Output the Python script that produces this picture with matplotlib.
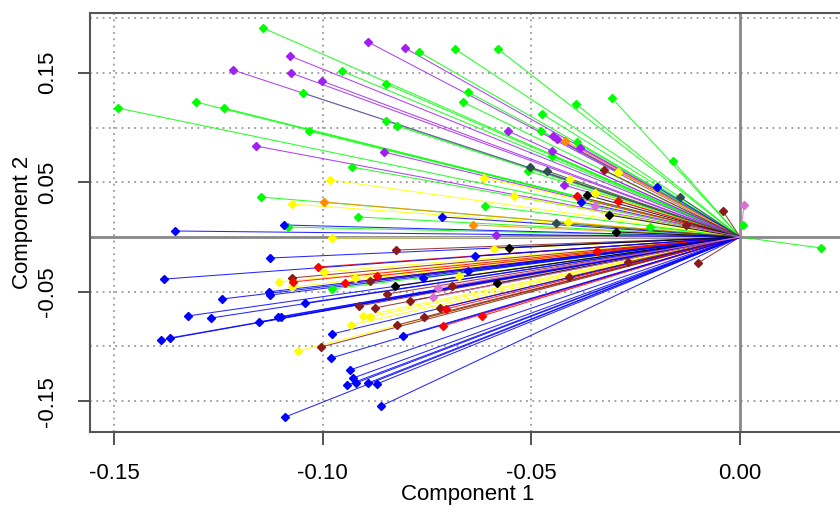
import matplotlib.pyplot as plt

# loadings per colour group
green_x = [-0.1143, -0.1304, -0.1237, -0.1491, -0.0769, -0.0683, -0.0954, -0.0848, -0.0652, -0.1047,
           -0.0664, -0.0848, -0.0822, -0.1033, -0.0580, -0.0393, -0.0307, -0.0474, -0.0477, -0.0390,
           -0.0451, -0.0508, -0.0611, -0.0216, -0.0161, 0.0007, 0.0194, -0.1148, -0.0930, -0.0915,
           -0.1083, -0.0978]
green_y = [0.1909, 0.1233, 0.1178, 0.1178, 0.1690, 0.1717, 0.1516, 0.1397, 0.1324, 0.1315,
           0.1233, 0.1059, 0.1014, 0.0968, 0.1717, 0.1215, 0.1269, 0.1123, 0.0968, 0.0868,
           0.0740, 0.0603, 0.0283, 0.0091, 0.0694, 0.0110, -0.0100, 0.0365, 0.0639, 0.0183,
           0.0091, -0.0475]

purple_x = [-0.1215, -0.1160, -0.0891, -0.0803, -0.1078, -0.1076, -0.1002, -0.0853, -0.0556, -0.0448,
            -0.0439, -0.0383, -0.0451, -0.0422, -0.0585]
purple_y = [0.1525, 0.0831, 0.1780, 0.1726, 0.1653, 0.1498, 0.1425, 0.0776, 0.0968, 0.0922,
            0.0895, 0.0813, 0.0785, 0.0475, 0.0018]

blue_x = [-0.1354, -0.1126, -0.1380, -0.1128, -0.1241, -0.1126, -0.1323, -0.1268, -0.1153, -0.1107,
          -0.1387, -0.1366, -0.1042, -0.1100, -0.0978, -0.0808, -0.0980, -0.0935, -0.0942, -0.0927,
          -0.0920, -0.0891, -0.0870, -0.0860, -0.1090, -0.0714, -0.1093, -0.0760, -0.0651, -0.0635,
          -0.0381, -0.0199]
blue_y = [0.0055, -0.0192, -0.0384, -0.0500, -0.0566, -0.0530, -0.0721, -0.0740, -0.0776, -0.0731,
          -0.0941, -0.0922, -0.0603, -0.0731, -0.0886, -0.0904, -0.1105, -0.1215, -0.1352, -0.1288,
          -0.1333, -0.1333, -0.1342, -0.1543, -0.1644, 0.0183, 0.0110, -0.0374, -0.0311, -0.0174,
          0.0320, 0.0457]

yellow_x = [-0.0983, -0.1074, -0.0978, -0.0996, -0.0923, -0.1104, -0.0673, -0.1074, -0.0903, -0.0886,
            -0.0932, -0.1059, -0.0613, -0.0542, -0.0412, -0.0590, -0.0292, -0.0407, -0.0347]
yellow_y = [0.0521, 0.0301, -0.0009, -0.0320, -0.0374, -0.0410, -0.0356, -0.0457, -0.0721, -0.0730,
            -0.0804, -0.1041, 0.0539, 0.0374, 0.0137, -0.0110, 0.0594, 0.0529, 0.0402]

orange_x = [-0.0997, -0.0640, -0.0419]
orange_y = [0.0320, 0.0110, 0.0877]

darkred_x = [-0.0326, -0.0824, -0.1074, -0.0887, -0.0913, -0.0875, -0.0846, -0.0791, -0.0719, -0.0822,
             -0.0757, -0.1004, -0.0041, -0.0129, -0.0100, -0.0410, -0.0268, -0.0690]
darkred_y = [0.0612, -0.0119, -0.0374, -0.0402, -0.0630, -0.0648, -0.0521, -0.0584, -0.0648, -0.0804,
             -0.0731, -0.1005, 0.0237, 0.0110, -0.0237, -0.0365, -0.0228, -0.0447]

red_x = [-0.1011, -0.1071, -0.0870, -0.0947, -0.0705, -0.0712, -0.0618, -0.0390, -0.0292, -0.0343]
red_y = [-0.0274, -0.0410, -0.0356, -0.0420, -0.0657, -0.0813, -0.0721, 0.0374, 0.0329, -0.0128]

black_x = [-0.0367, -0.0314, -0.0297, -0.0554, -0.0827, -0.0582]
black_y = [0.0383, 0.0201, 0.0046, -0.0100, -0.0447, -0.0420]

slate_x = [-0.0503, -0.0462, -0.0441, -0.0144]
slate_y = [0.0639, 0.0603, 0.0128, 0.0365]

orchid_x = [0.0010, -0.0724, -0.0347, -0.0736]
orchid_y = [0.0292, -0.0466, 0.0283, -0.0548]

groups = [
    (green_x, green_y, "#00FF00"),
    (purple_x, purple_y, "#A020F0"),
    (yellow_x, yellow_y, "#FFFF00"),
    (orange_x, orange_y, "#FF8C00"),
    (darkred_x, darkred_y, "#8B1A1A"),
    (red_x, red_y, "#FF0000"),
    (blue_x, blue_y, "#0000FF"),
    (black_x, black_y, "#000000"),
    (slate_x, slate_y, "#2F4F4F"),
    (orchid_x, orchid_y, "#DA70D6"),
]

plt.rcParams['font.family'] = ['Liberation Sans Narrow', 'Liberation Sans', 'DejaVu Sans']

fig = plt.figure(figsize=(8.4, 5.13), dpi=100)
ax = fig.add_axes([90 / 840, 81 / 513, 755 / 840, 419 / 513])
ax.set_xlim(-0.15577, 0.02516)
ax.set_ylim(-0.1781, 0.2046)

# dotted grid + solid zero lines
for gx in [-0.15, -0.10, -0.05]:
    ax.axvline(gx, color="#999999", lw=1.3, ls=(0, (1, 2.5)), zorder=0)
for gy in [-0.15, -0.10, -0.05, 0.05, 0.10, 0.15, 0.20]:
    ax.axhline(gy, color="#999999", lw=1.3, ls=(0, (1, 2.5)), zorder=0)
ax.axhline(0, color="#888888", lw=2, zorder=0.5)
ax.axvline(0, color="#888888", lw=2, zorder=0.5)

for xs, ys, c in groups:
    for x, y in zip(xs, ys):
        ax.plot([0, x], [0, y], color=c, lw=0.75, alpha=0.85, zorder=1)
for xs, ys, c in groups:
    ax.plot(xs, ys, "D", color=c, mec=c, ms=4.4, zorder=2)

ax.set_xticks([-0.15, -0.10, -0.05, 0.00])
ax.set_xticklabels(["-0.15", "-0.10", "-0.05", "0.00"], fontsize=16)
ax.set_yticks([-0.15, -0.05, 0.05, 0.15])
ax.set_yticklabels(["-0.15", "-0.05", "0.05", "0.15"], fontsize=16, rotation=90, va="center")
ax.tick_params(axis="x", length=9, width=1.3, color="#444444", pad=13)
ax.tick_params(axis="y", length=9, width=1.3, color="#444444", pad=14)
for s in ax.spines.values():
    s.set_color("#555555")
    s.set_linewidth(1.5)

ax.set_xlabel("Component 1", fontsize=16, labelpad=0)
ax.set_ylabel("Component 2", fontsize=16, labelpad=3)

fig.savefig("out.png", dpi=100)
